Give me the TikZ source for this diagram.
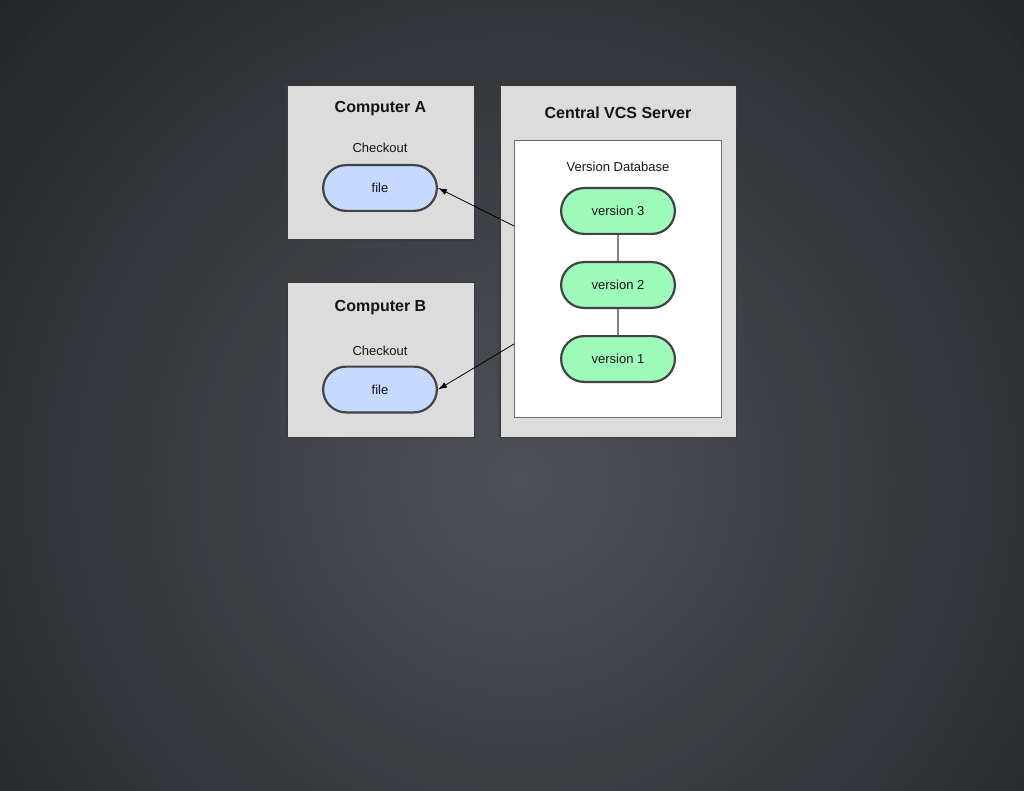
\documentclass[tikz,border=0pt]{standalone}
\usepackage{fontspec}
\setmainfont{Liberation Sans}
\usepackage{tikz}
\usetikzlibrary{shapes.misc, arrows.meta, positioning}

\definecolor{bgcenter}{HTML}{4D5055}
\definecolor{bgouter}{HTML}{212326}
\definecolor{panelgray}{HTML}{DCDCDC}
\definecolor{panelline}{HTML}{3A3B3E}
\definecolor{dbline}{HTML}{707070}
\definecolor{fileblue}{HTML}{C6D9FE}
\definecolor{versiongreen}{HTML}{9EFCBA}
\definecolor{pillline}{HTML}{434343}
\definecolor{inktext}{HTML}{151515}

\begin{document}
\begin{tikzpicture}[
    x=1pt, y=-1pt,
    panel/.style={draw=panelline, line width=1.5pt, fill=panelgray},
    dbbox/.style={draw=dbline, line width=1pt, fill=white},
    pill/.style={draw=pillline, rounded rectangle, line width=2.2pt, minimum width=113.8pt, minimum height=45.8pt, inner sep=0pt, text=inktext, font=\fontsize{13}{15}\selectfont},
    heading/.style={anchor=base, inner sep=0pt, text=inktext, font=\fontsize{16}{19}\selectfont\bfseries},
    caption/.style={anchor=base, inner sep=0pt, text=inktext, font=\fontsize{13}{15}\selectfont},
    link/.style={draw=pillline, line width=1.3pt},
    arrow/.style={-{Latex[length=9pt,width=6pt]}, line width=0.8pt, black}
]

% background glow, built from rings
\useasboundingbox (0,0) rectangle (1024,791);
\begin{scope}
    \clip (0,0) rectangle (1024,791);
    \fill[bgouter] (0,0) rectangle (1024,791);
    \foreach \i in {1,...,48} {
        \pgfmathsetmacro\ringr{740*(1-(\i-1)/48)}
        \pgfmathsetmacro\ringp{100*\i/48}
        \fill[bgcenter!\ringp!bgouter] (520,480) circle (\ringr);
    }
\end{scope}

% computers
\node[panel, minimum width=187.5pt, minimum height=154.5pt] (compA) at (380.5,163) {};
\node[panel, minimum width=187.5pt, minimum height=154.5pt] (compB) at (380.5,360) {};
\node[heading] (titleA) at (380.5,113) {Computer A};
\node[heading] (titleB) at (380.5,312) {Computer B};
\node[pill, fill=fileblue] (fileA) at (380,188) {file};
\node[pill, fill=fileblue] (fileB) at (380,389.5) {file};
\node[caption] (checkA) at (380,153) {Checkout};
\node[caption] (checkB) at (380,355) {Checkout};

% server
\node[panel, minimum width=236.5pt, minimum height=351.5pt] (server) at (618,261.5) {};
\node[heading] (titleS) at (618,119) {Central VCS Server};
\node[dbbox, minimum width=207pt, minimum height=277pt] (db) at (618,279) {};
\node[caption] (dbtitle) at (618,172) {Version Database};
\node[pill, fill=versiongreen] (v3) at (618,211) {version 3};
\node[pill, fill=versiongreen, below=26pt of v3] (v2) {version 2};
\node[pill, fill=versiongreen, below=26pt of v2] (v1) {version 1};

\draw[link] (v3) -- (v2);
\draw[link] (v2) -- (v1);
\draw[arrow] ([yshift=53pt]db.west) -- (fileA.east);
\draw[arrow] ([yshift=-65pt]db.west) -- (fileB.east);

\end{tikzpicture}
\end{document}
